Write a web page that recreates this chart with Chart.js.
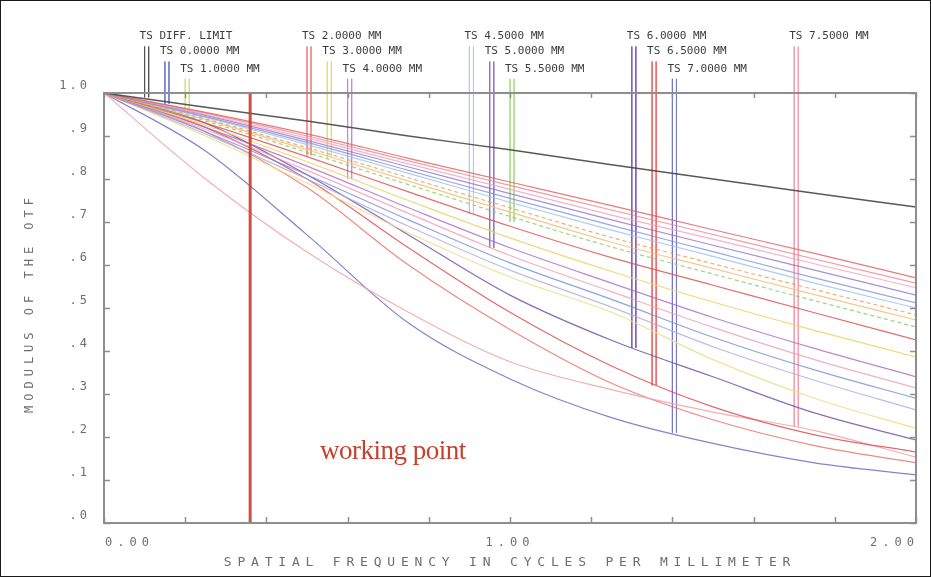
<!DOCTYPE html>
<html>
<head>
<meta charset="utf-8">
<title>MTF</title>
<script src="https://cdn.jsdelivr.net/npm/chart.js@4/dist/chart.umd.min.js"></script>
<style>
  html, body { margin: 0; padding: 0; background: #fff; }
  canvas { display: block; }
</style>
</head>
<body>
<canvas id="mtf" width="931" height="577"></canvas>
<script>
// Spatial frequency samples (cycles/mm)
const freqs = [0, 0.25, 0.5, 0.75, 1.0, 1.25, 1.5, 1.75, 2.0];

// Diffraction limited response
const diffLimit = [1, 0.967, 0.935, 0.900, 0.868, 0.833, 0.800, 0.767, 0.735];

// Tangential / sagittal responses of the field points
const mtfA = [1, 0.955, 0.905, 0.848, 0.793, 0.738, 0.682, 0.627, 0.570];
const mtfB = [1, 0.953, 0.900, 0.842, 0.785, 0.728, 0.671, 0.614, 0.558];
const mtfC = [1, 0.950, 0.895, 0.835, 0.776, 0.716, 0.660, 0.603, 0.547];
const mtfD = [1, 0.948, 0.890, 0.828, 0.766, 0.705, 0.646, 0.588, 0.530];
const mtfE = [1, 0.945, 0.885, 0.820, 0.755, 0.692, 0.631, 0.570, 0.512];
const mtfF = [1, 0.943, 0.880, 0.813, 0.746, 0.681, 0.620, 0.558, 0.500];
const mtfG = [1, 0.940, 0.873, 0.803, 0.733, 0.664, 0.603, 0.543, 0.484];
const mtfH = [1, 0.938, 0.868, 0.795, 0.723, 0.653, 0.592, 0.531, 0.472];
const mtfI = [1, 0.935, 0.862, 0.787, 0.713, 0.642, 0.579, 0.517, 0.456];
const mtfJ = [1, 0.930, 0.852, 0.770, 0.690, 0.617, 0.553, 0.489, 0.426];
const mtfK = [1, 0.925, 0.840, 0.750, 0.663, 0.585, 0.514, 0.448, 0.386];
const mtfL = [1, 0.920, 0.830, 0.733, 0.640, 0.558, 0.478, 0.406, 0.340];
const mtfM = [1, 0.915, 0.820, 0.720, 0.622, 0.538, 0.455, 0.380, 0.314];
const mtfN = [1, 0.910, 0.810, 0.705, 0.605, 0.520, 0.432, 0.356, 0.290];
const mtfO = [1, 0.905, 0.800, 0.690, 0.588, 0.502, 0.410, 0.332, 0.263];
const mtfP = [1, 0.900, 0.790, 0.675, 0.572, 0.490, 0.380, 0.290, 0.220];
const mtfQ = [1, 0.930, 0.810, 0.670, 0.530, 0.425, 0.340, 0.256, 0.193];
const mtfR = [1, 0.920, 0.800, 0.640, 0.490, 0.365, 0.270, 0.205, 0.165];
const mtfS = [1, 0.800, 0.630, 0.490, 0.375, 0.310, 0.258, 0.215, 0.153];
const mtfT = [1, 0.910, 0.780, 0.600, 0.450, 0.325, 0.240, 0.180, 0.140];
const mtfU = [1, 0.865, 0.670, 0.465, 0.335, 0.245, 0.185, 0.140, 0.112];

// Field labels and where their leader lines meet the curves
const fieldLabels = ['TS DIFF. LIMIT', 'TS 0.0000 MM', 'TS 1.0000 MM', 'TS 2.0000 MM',
  'TS 3.0000 MM', 'TS 4.0000 MM', 'TS 4.5000 MM', 'TS 5.0000 MM', 'TS 5.5000 MM',
  'TS 6.0000 MM', 'TS 6.5000 MM', 'TS 7.0000 MM', 'TS 7.5000 MM'];
const leaderFreqs = [0.10, 0.15, 0.20, 0.50, 0.55, 0.60, 0.90, 0.95, 1.00, 1.30, 1.35, 1.40, 1.70];
const leaderValues = [0.99, 0.975, 0.96, 0.855, 0.85, 0.80, 0.72, 0.64, 0.70, 0.407, 0.32, 0.21, 0.225];

// Working point frequency
const workingFreq = 0.36;

// Axis tick labels
const yTickValues = [0, 0.1, 0.2, 0.3, 0.4, 0.5, 0.6, 0.7, 0.8, 0.9, 1.0];
const yTickLabels = ['.0', '.1', '.2', '.3', '.4', '.5', '.6', '.7', '.8', '.9', '1.0'];
const xTickValues = [0, 0.2, 0.4, 0.6, 0.8, 1.0, 1.2, 1.4, 1.6, 1.8, 2.0];
const xTickLabels = ['0.00', '', '', '', '', '1.00', '', '', '', '', '2.00'];

// ---- styles -------------------------------------------------------------
const curveStyles = [
  [mtfA, 'rgba(228,100,100,0.85)', false],
  [mtfB, 'rgba(238,130,140,0.8)', false],
  [mtfC, 'rgba(240,160,190,0.8)', false],
  [mtfD, 'rgba(150,115,205,0.8)', false],
  [mtfE, 'rgba(130,145,220,0.8)', false],
  [mtfF, 'rgba(160,195,238,0.85)', false],
  [mtfG, 'rgba(240,160,80,0.85)', true],
  [mtfH, 'rgba(242,190,120,0.85)', false],
  [mtfI, 'rgba(140,205,105,0.85)', true],
  [mtfJ, 'rgba(222,85,85,0.85)', false],
  [mtfK, 'rgba(232,215,105,0.9)', false],
  [mtfL, 'rgba(170,105,195,0.8)', false],
  [mtfM, 'rgba(240,155,185,0.8)', false],
  [mtfN, 'rgba(115,140,215,0.8)', false],
  [mtfO, 'rgba(170,170,228,0.8)', false],
  [mtfP, 'rgba(238,222,140,0.9)', false],
  [mtfQ, 'rgba(110,85,170,0.85)', false],
  [mtfR, 'rgba(222,80,80,0.85)', false],
  [mtfS, 'rgba(240,160,170,0.85)', false],
  [mtfT, 'rgba(230,110,100,0.8)', false],
  [mtfU, 'rgba(110,110,190,0.85)', false]
];

const leaderColors = ['#555555', '#6f7fd0', '#d8e080', '#f08a8a', '#e6dc70', '#c28ad8',
  '#9fd4ec', '#8a78c8', '#b0dc90', '#8060b8', '#ee6a6a', '#7878c8', '#f4a0b0'];
const leaderRowTop = [1.108, 1.073, 1.033];

const toPoints = arr => arr.map((v, i) => ({ x: freqs[i], y: v }));

const datasets = [];

datasets.push({
  data: [{ x: workingFreq, y: 0 }, { x: workingFreq, y: 1 }],
  borderColor: 'rgba(200,62,45,0.9)',
  borderWidth: 3
});

datasets.push({
  data: toPoints(diffLimit),
  borderColor: 'rgba(70,70,70,0.9)',
  borderWidth: 1.5,
  cubicInterpolationMode: 'monotone'
});

curveStyles.forEach(([arr, color, dashed]) => {
  datasets.push({
    data: toPoints(arr),
    borderColor: color,
    borderWidth: 1.2,
    borderDash: dashed ? [4, 3] : [],
    cubicInterpolationMode: 'monotone'
  });
});

// leader lines: a pair of thin verticals per field label
leaderFreqs.forEach((f, i) => {
  const top = leaderRowTop[i % 3];
  [0, 0.01].forEach(off => {
    datasets.push({
      data: [{ x: f + off, y: top }, { x: f + off, y: leaderValues[i] }],
      borderColor: leaderColors[i],
      borderWidth: 1,
      clip: false
    });
  });
});

// ---- frame, ticks and text ---------------------------------------------
const plotDecor = {
  id: 'plotDecor',
  afterDatasetsDraw(chart) {
    const { ctx, chartArea: a, scales: { x, y } } = chart;
    ctx.save();

    // page border
    ctx.strokeStyle = '#1a1a1a';
    ctx.lineWidth = 1;
    ctx.strokeRect(0.5, 0.5, chart.width - 1, chart.height - 1);

    // plot frame
    ctx.strokeStyle = '#8e8e8e';
    ctx.lineWidth = 2;
    ctx.strokeRect(a.left, a.top, a.right - a.left, a.bottom - a.top);

    // inward ticks on all four sides
    ctx.lineWidth = 1.5;
    ctx.beginPath();
    yTickValues.forEach(v => {
      const py = Math.round(y.getPixelForValue(v)) + 0.5;
      ctx.moveTo(a.left, py); ctx.lineTo(a.left + 6, py);
      ctx.moveTo(a.right - 6, py); ctx.lineTo(a.right, py);
    });
    xTickValues.forEach(v => {
      const px = Math.round(x.getPixelForValue(v)) + 0.5;
      ctx.moveTo(px, a.bottom); ctx.lineTo(px, a.bottom - 6);
      ctx.moveTo(px, a.top); ctx.lineTo(px, a.top + 5);
    });
    ctx.stroke();

    // y tick labels
    ctx.fillStyle = '#6e6e6e';
    ctx.font = '12px "DejaVu Sans Mono"';
    ctx.letterSpacing = '3px';
    ctx.textAlign = 'right';
    ctx.textBaseline = 'alphabetic';
    yTickValues.forEach((v, i) => {
      ctx.fillText(yTickLabels[i], a.left - 14, y.getPixelForValue(v) - 4);
    });

    // x tick labels
    ctx.letterSpacing = '5px';
    xTickValues.forEach((v, i) => {
      const t = xTickLabels[i];
      if (!t) return;
      const px = x.getPixelForValue(v);
      const w = ctx.measureText(t).width;
      let left = px - w / 2;
      if (i === 0) left = px + 1;
      if (i === xTickValues.length - 1) left = px - w + 3;
      ctx.textAlign = 'left';
      ctx.fillText(t, left, a.bottom + 23);
    });

    // axis titles
    ctx.font = '13px "DejaVu Sans Mono"';
    ctx.letterSpacing = '5.8px';
    ctx.textAlign = 'center';
    ctx.textBaseline = 'middle';
    ctx.fillText('SPATIAL FREQUENCY IN CYCLES PER MILLIMETER', (a.left + a.right) / 2, a.bottom + 40);

    ctx.save();
    ctx.translate(30, (a.top + a.bottom) / 2 - 5);
    ctx.rotate(-Math.PI / 2);
    ctx.font = '12px "DejaVu Sans Mono"';
    ctx.letterSpacing = '5px';
    ctx.fillText('MODULUS OF THE OTF', 0, 0);
    ctx.restore();

    // field labels above the plot
    ctx.font = '11px "DejaVu Sans Mono"';
    ctx.letterSpacing = '0px';
    ctx.fillStyle = '#3c3c3c';
    ctx.textAlign = 'left';
    ctx.textBaseline = 'middle';
    leaderFreqs.forEach((f, i) => {
      const px = x.getPixelForValue(f);
      const py = y.getPixelForValue(leaderRowTop[i % 3]) - 10;
      ctx.fillText(fieldLabels[i], px - 5, py);
    });

    // working point note
    ctx.font = '27px "Liberation Serif"';
    ctx.letterSpacing = '-0.5px';
    ctx.fillStyle = '#c8402c';
    ctx.textBaseline = 'alphabetic';
    ctx.fillText('working point', x.getPixelForValue(0.532), y.getPixelForValue(0.149));

    ctx.restore();
  }
};

new Chart(document.getElementById('mtf'), {
  type: 'scatter',
  data: { datasets },
  options: {
    responsive: false,
    animation: false,
    devicePixelRatio: 1,
    showLine: true,
    layout: { padding: { left: 104, right: 15, top: 93, bottom: 54 } },
    elements: { point: { radius: 0, hoverRadius: 0 }, line: { fill: false } },
    plugins: { legend: { display: false }, tooltip: { enabled: false } },
    events: [],
    scales: {
      x: { type: 'linear', min: 0, max: 2, display: false },
      y: { type: 'linear', min: 0, max: 1, display: false }
    }
  },
  plugins: [plotDecor]
});
</script>
</body>
</html>
